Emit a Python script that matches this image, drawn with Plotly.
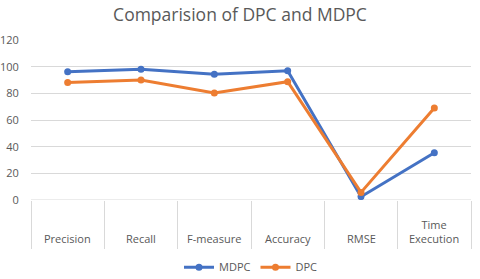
import plotly.graph_objects as go

categories = ["Precision", "Recall", "F-measure", "Accuracy", "RMSE", "Time Execution"]
cat_labels = ["Precision", "Recall", "F-measure", "Accuracy", "RMSE", "Time<br>Execution"]
mdpc = [96.2, 98.0, 94.3, 97.0, 2.5, 35.5]
dpc = [88.2, 90.0, 80.2, 88.7, 5.7, 69.0]
y_ticks = [0, 20, 40, 60, 80, 100, 120]

gray = "#595959"
grid = "#d9d9d9"
font_family = "Open Sans, Liberation Sans, sans-serif"

fig = go.Figure()
fig.add_trace(go.Scatter(x=categories, y=mdpc, name="MDPC", mode="lines+markers",
                         line=dict(color="#4472C4", width=3), marker=dict(size=7, color="#4472C4")))
fig.add_trace(go.Scatter(x=categories, y=dpc, name="DPC", mode="lines+markers",
                         line=dict(color="#ED7D31", width=3), marker=dict(size=7, color="#ED7D31")))

for c, lab in zip(categories, cat_labels):
    fig.add_annotation(x=c, xref="x", y=-0.3, yref="paper", yanchor="bottom",
                       text=lab, showarrow=False, font=dict(size=11, color=gray, family=font_family))

fig.update_layout(
    width=480, height=279,
    margin=dict(l=31, r=9, t=40, b=79, autoexpand=False),
    paper_bgcolor="white", plot_bgcolor="white",
    title=dict(text="Comparision of DPC and MDPC", x=0.5, xanchor="center", yref="container",
               y=0.945, yanchor="middle", automargin=False,
               font=dict(size=17.5, color=gray, family=font_family)),
    font=dict(family=font_family, color=gray, size=11),
    showlegend=True,
    legend=dict(orientation="h", x=0.5, xanchor="center", y=-0.42, yanchor="middle",
                font=dict(size=11, color=gray), itemwidth=30),
    xaxis=dict(type="category", tickson="boundaries", ticks="outside", ticklen=48,
               tickcolor=grid, tickwidth=1, showticklabels=False, showgrid=False, automargin=False,
               showline=False, zeroline=False, range=[-0.5, 5.5], fixedrange=True),
    yaxis=dict(range=[0, 120], tickvals=y_ticks, showgrid=True, gridcolor=grid, gridwidth=1,
               zeroline=False, showline=False, ticks="outside", ticklen=9, automargin=False,
               tickcolor="rgba(0,0,0,0)", tickfont=dict(size=11, color=gray)),
)
fig.add_hline(y=0, line=dict(color=grid, width=1), layer="below")

fig.write_html("out.html", config={"displayModeBar": False},
               post_script="document.body.style.margin='0';document.body.style.overflow='hidden';")
